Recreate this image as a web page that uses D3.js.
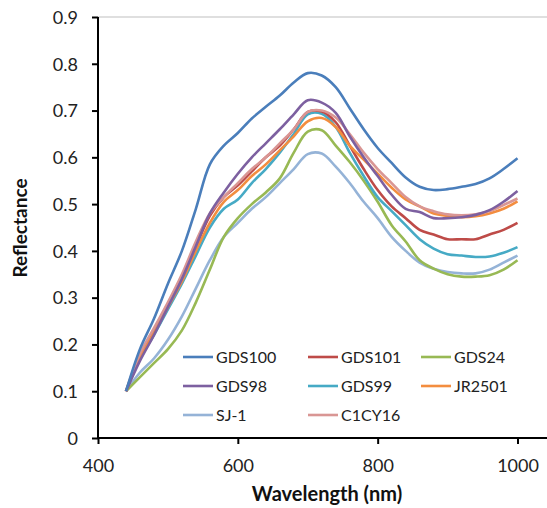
<!DOCTYPE html>
<html><head><meta charset="utf-8">
<script src="https://cdn.jsdelivr.net/npm/d3@7/dist/d3.min.js"></script>
<style>body{margin:0;background:#fff;} text{font-family:Lato,"Open Sans",sans-serif;}</style>
</head><body><svg id="c" width="547" height="508"></svg>
<script>
const wavelengths = [440,460,480,500,520,540,560,580,600,620,640,660,680,700,720,740,760,780,800,820,840,860,880,900,920,940,960,980,1000];
const seriesNames = ["GDS100","GDS101","GDS24","GDS98","GDS99","JR2501","SJ-1","C1CY16"];
const GDS100 = [0.1,0.19,0.255,0.33,0.40,0.49,0.585,0.625,0.652,0.683,0.708,0.732,0.76,0.78,0.775,0.75,0.705,0.66,0.62,0.588,0.557,0.537,0.53,0.532,0.537,0.543,0.555,0.575,0.598];
const GDS101 = [0.1,0.175,0.23,0.285,0.345,0.41,0.475,0.515,0.54,0.57,0.60,0.625,0.66,0.697,0.698,0.675,0.625,0.575,0.53,0.495,0.47,0.445,0.435,0.425,0.425,0.425,0.435,0.445,0.46];
const GDS24 = [0.1,0.13,0.16,0.19,0.23,0.29,0.36,0.43,0.47,0.50,0.525,0.555,0.61,0.655,0.658,0.625,0.59,0.55,0.505,0.455,0.42,0.38,0.362,0.35,0.345,0.345,0.348,0.36,0.38];
const GDS98 = [0.1,0.165,0.22,0.28,0.34,0.41,0.48,0.525,0.565,0.60,0.63,0.66,0.692,0.722,0.717,0.695,0.645,0.60,0.56,0.52,0.49,0.483,0.47,0.47,0.472,0.477,0.487,0.505,0.528];
const GDS99 = [0.1,0.17,0.22,0.275,0.33,0.39,0.45,0.49,0.51,0.545,0.575,0.61,0.65,0.692,0.693,0.665,0.61,0.56,0.515,0.485,0.455,0.425,0.405,0.393,0.39,0.387,0.388,0.396,0.408];
const JR2501 = [0.1,0.17,0.225,0.28,0.335,0.40,0.46,0.505,0.53,0.56,0.585,0.615,0.645,0.677,0.684,0.665,0.625,0.595,0.565,0.535,0.51,0.495,0.48,0.475,0.472,0.474,0.48,0.49,0.506];
const SJ1 = [0.1,0.14,0.17,0.21,0.26,0.32,0.38,0.43,0.46,0.49,0.515,0.545,0.575,0.607,0.608,0.58,0.545,0.505,0.47,0.43,0.40,0.375,0.362,0.355,0.352,0.352,0.36,0.375,0.39];
const C1CY16 = [0.1,0.18,0.235,0.29,0.35,0.42,0.48,0.515,0.545,0.575,0.60,0.63,0.66,0.697,0.70,0.685,0.65,0.61,0.575,0.545,0.515,0.495,0.485,0.478,0.476,0.478,0.485,0.498,0.512];
const colors = ["#4A7EBB","#BE4B48","#98B954","#7D60A0","#46AAC5","#F38D3F","#95B3D7","#D99694"];
const xTicks = [400,600,800,1000];
const yTicks = [0,0.1,0.2,0.3,0.4,0.5,0.6,0.7,0.8,0.9];

const values = [GDS100,GDS101,GDS24,GDS98,GDS99,JR2501,SJ1,C1CY16];
const svg = d3.select("#c");
const x = d3.scaleLinear().domain([400,1000]).range([98,517.5]);
const y = d3.scaleLinear().domain([0,0.9]).range([438,17]);
const right = 547;

svg.append("line").attr("x1",98).attr("x2",right).attr("y1",y(0.9)).attr("y2",y(0.9))
  .attr("stroke","#bfbfbf").attr("stroke-width",1);

const yAxis = svg.append("g").attr("transform","translate(98,0)")
  .call(d3.axisLeft(y).tickValues(yTicks).tickFormat(d=>d===0?"0":d3.format(".1f")(d)).tickSize(6).tickPadding(14));
yAxis.select(".domain").attr("stroke","#000").attr("stroke-width",2).attr("d","M0,"+y(0.9)+"V"+y(0));
yAxis.selectAll(".tick line").attr("stroke","#000").attr("stroke-width",2);
yAxis.selectAll("text").attr("font-size",18).attr("fill","#222").attr("font-family","Lato,sans-serif").attr("dy","0.35em");

const xAxis = svg.append("g").attr("transform","translate(0,438)")
  .call(d3.axisBottom(x).tickValues(xTicks).tickFormat(d3.format("d")).tickSize(6));
xAxis.select(".domain").attr("stroke","#000").attr("stroke-width",2).attr("d","M98,0H"+right);
xAxis.selectAll(".tick line").attr("stroke","#000").attr("stroke-width",2);
xAxis.selectAll("text").attr("font-size",18).attr("fill","#222").attr("font-family","Lato,sans-serif")
  .attr("y",34).attr("dy",0);

const line = d3.line().x((d,i)=>x(wavelengths[i])).y(d=>y(d)).curve(d3.curveCatmullRom.alpha(0.5));
const order = [6,2,4,1,5,7,3,0];
order.forEach(k=>{
  svg.append("path").attr("d",line(values[k])).attr("fill","none")
    .attr("stroke",colors[k]).attr("stroke-width",2.6).attr("stroke-linejoin","round");
});

const legCols = [183,308,421];
const legRows = [357,386,415];
seriesNames.forEach((n,i)=>{
  const cx = legCols[i%3], cy = legRows[Math.floor(i/3)];
  svg.append("line").attr("x1",cx).attr("x2",cx+30).attr("y1",cy).attr("y2",cy)
    .attr("stroke",colors[i]).attr("stroke-width",2.6);
  svg.append("text").attr("x",cx+33).attr("y",cy+6).attr("font-size",16).attr("fill","#222").text(n);
});

svg.append("text").attr("transform","translate(27,228) rotate(-90)").attr("text-anchor","middle")
  .attr("font-size",19).attr("font-weight","bold").attr("fill","#111").text("Reflectance");
svg.append("text").attr("x",327).attr("y",501).attr("text-anchor","middle")
  .attr("font-size",20).attr("font-weight","bold").attr("fill","#111").text("Wavelength (nm)");
</script></body></html>
